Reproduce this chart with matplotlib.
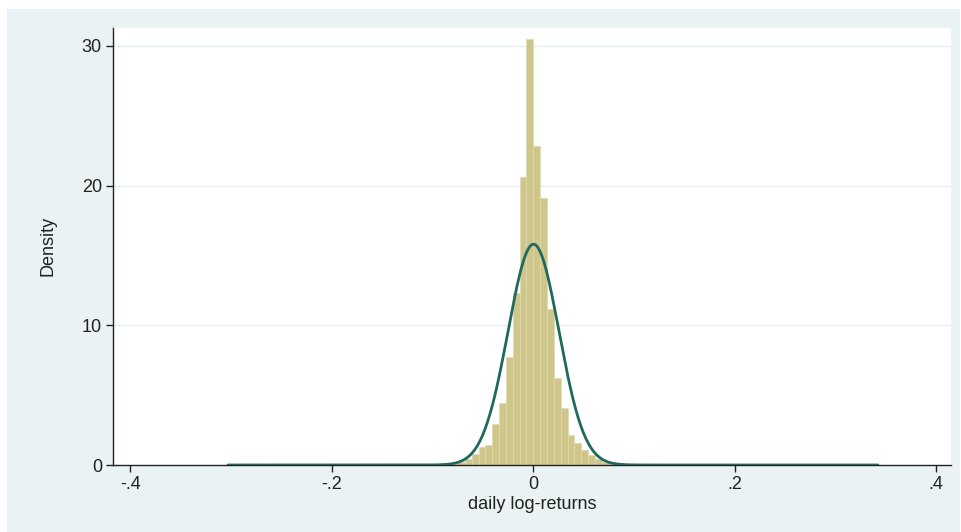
import numpy as np
import matplotlib
matplotlib.use("Agg")
import matplotlib.pyplot as plt
from matplotlib.patches import Rectangle

# ---- data ----
bin_start = -0.306
bin_width = 0.0068
density = [
    0.03, 0, 0, 0, 0, 0, 0, 0, 0, 0, 0, 0.03,
    0.03, 0, 0, 0, 0, 0, 0, 0, 0, 0, 0.03, 0.03,
    0, 0, 0, 0, 0.05, 0.05, 0.05, 0.06, 0.08, 0.12, 0.25, 0.45,
    0.8, 1.3, 1.4, 2.95, 4.45, 7.75, 12.3, 20.6, 30.5, 22.8, 19.1, 11.2,
    6.2, 4.1, 2.15, 1.6, 1.05, 0.7, 0.4, 0.25, 0.15, 0.12, 0.1, 0.06,
    0.05, 0.05, 0.04, 0.04, 0.03, 0, 0, 0, 0, 0, 0, 0,
    0, 0, 0, 0, 0, 0, 0, 0, 0.03, 0, 0, 0,
    0, 0, 0, 0, 0, 0, 0, 0, 0, 0, 0, 0.03,
]
normal_mean = 0.0002
normal_sd = 0.02525
data_min = -0.303
data_max = 0.342

x_ticks = [-0.4, -0.2, 0.0, 0.2, 0.4]
x_tick_labels = ["-.4", "-.2", "0", ".2", ".4"]
y_ticks = [0, 10, 20, 30]
y_tick_labels = ["0", "10", "20", "30"]
x_label = "daily log-returns"
y_label = "Density"

# ---- figure ----
W, H = 962, 532
plt.rcParams["font.family"] = ["Liberation Sans", "DejaVu Sans"]
fig = plt.figure(figsize=(W / 100, H / 100), dpi=100, facecolor="white")

# graph region (light blue-gray) drawn on a background axes
bg = fig.add_axes([0, 0, 1, 1], zorder=0)
bg.set_axis_off()
bg.set_xlim(0, W)
bg.set_ylim(H, 0)
bg.add_patch(Rectangle((7, 9), 960 - 7, H - 9, facecolor="#EAF2F3", edgecolor="none"))

ax = fig.add_axes([113 / W, 1 - 465 / H, (951 - 113) / W, (465 - 27) / H], zorder=1)
ax.set_facecolor("white")

lefts = bin_start + bin_width * np.arange(len(density))
ax.bar(lefts, density, width=bin_width, align="edge",
       color="#CFC68B", edgecolor="#E0DAAE", linewidth=0.5, zorder=2)

xs = np.linspace(data_min, data_max, 800)
pdf = np.exp(-0.5 * ((xs - normal_mean) / normal_sd) ** 2) / (normal_sd * np.sqrt(2 * np.pi))
ax.plot(xs, pdf, color="#1F6A5C", linewidth=2.0, zorder=3, solid_capstyle="round")

ax.set_xlim(-0.4172, 0.4146)
ax.set_ylim(0, 31.35)

ax.set_xticks(x_ticks)
ax.set_xticklabels(x_tick_labels)
ax.set_yticks(y_ticks)
ax.set_yticklabels(y_tick_labels)
ax.tick_params(axis="both", direction="out", length=5, width=1.0,
               color="#222222", labelsize=13, labelcolor="#222222", pad=3)

for y in y_ticks[1:]:
    ax.axhline(y, color="#E6EEF0", linewidth=1.0, zorder=1)

ax.spines["left"].set_color("#222222")
ax.spines["bottom"].set_color("#222222")
ax.spines["left"].set_linewidth(1.0)
ax.spines["bottom"].set_linewidth(1.0)
ax.spines["top"].set_color("#EEF3F4")
ax.spines["right"].set_color("#EEF3F4")

ax.set_xlabel(x_label, fontsize=13, color="#222222", labelpad=2)
ax.set_ylabel(y_label, fontsize=13, color="#222222", labelpad=18)

fig.savefig("out.png", dpi=100, facecolor="white")
